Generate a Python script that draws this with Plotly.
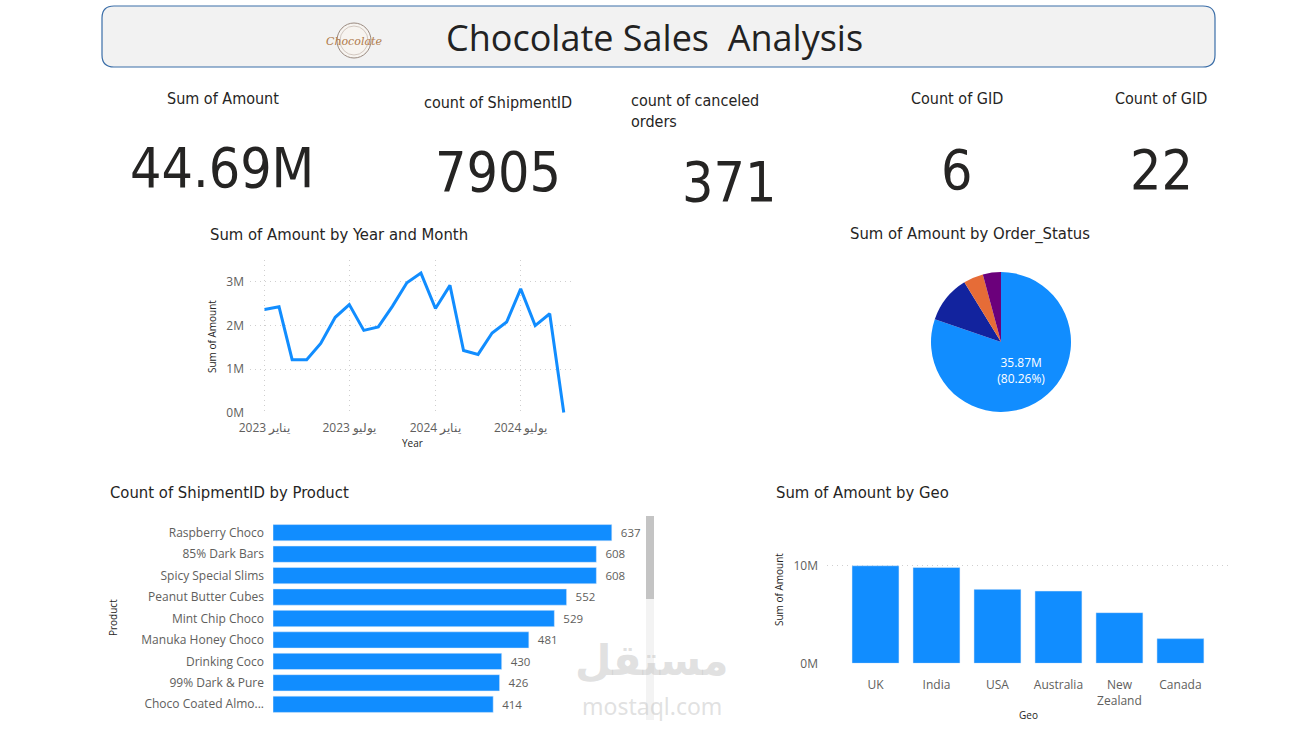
import plotly.graph_objects as go

W, H = 1305, 732

# ---------------- data ----------------
months = ["2023-01-01", "2023-02-01", "2023-03-01", "2023-04-01", "2023-05-01", "2023-06-01",
          "2023-07-01", "2023-08-01", "2023-09-01", "2023-10-01", "2023-11-01", "2023-12-01",
          "2024-01-01", "2024-02-01", "2024-03-01", "2024-04-01", "2024-05-01", "2024-06-01",
          "2024-07-01", "2024-08-01", "2024-09-01", "2024-10-01"]
monthly_amount = [2.37e6, 2.43e6, 1.22e6, 1.22e6, 1.59e6, 2.19e6, 2.48e6, 1.89e6, 1.97e6, 2.44e6,
                  2.98e6, 3.20e6, 2.39e6, 2.92e6, 1.43e6, 1.34e6, 1.83e6, 2.08e6, 2.84e6, 2.00e6,
                  2.27e6, 0.01e6]
month_tick_vals = ["2023-01-01", "2023-07-01", "2024-01-01", "2024-07-01"]
month_tick_text = ["يناير 2023", "يوليو 2023", "يناير 2024", "يوليو 2024"]

status_labels = ["Delivered", "In Transit", "Returned", "Cancelled"]
status_amount = [35.87e6, 4.90e6, 2.05e6, 1.87e6]
status_colors = ["#118DFF", "#12239E", "#E66C37", "#6B007B"]
status_text = ["35.87M<br>(80.26%)", "", "", ""]

products = ["Raspberry Choco", "85% Dark Bars", "Spicy Special Slims", "Peanut Butter Cubes",
            "Mint Chip Choco", "Manuka Honey Choco", "Drinking Coco", "99% Dark & Pure",
            "Choco Coated Almonds"]
product_tick_text = ["Raspberry Choco", "85% Dark Bars", "Spicy Special Slims", "Peanut Butter Cubes",
                     "Mint Chip Choco", "Manuka Honey Choco", "Drinking Coco", "99% Dark & Pure",
                     "Choco Coated Almo..."]
product_counts = [637, 608, 608, 552, 529, 481, 430, 426, 414]

geos = ["UK", "India", "USA", "Australia", "New Zealand", "Canada"]
geo_tick_text = ["UK", "India", "USA", "Australia", "New<br>Zealand", "Canada"]
geo_amount = [10.0e6, 9.83e6, 7.58e6, 7.41e6, 5.19e6, 2.53e6]

kpi_labels = ["Sum of Amount", "count of ShipmentID", "count of canceled<br>orders", "Count of GID", "Count of GID"]
kpi_values = ["44.69M", "7905", "371", "6", "22"]

# ---------------- helpers ----------------
def X(px):
    return px / W

def Y(py):
    return 1 - py / H

DIN = "Noto Sans Condensed, Noto Sans SemiCondensed, DejaVu Sans Condensed, Roboto, sans-serif"
LAB = "DejaVu Sans Condensed, Roboto, sans-serif"
SEG = "Segoe UI, Open Sans, Noto Sans, sans-serif"
TXT = "#252423"
TICK = "#605E5C"
GRID = "#CFCFCF"
BLUE = "#118DFF"
DOT = "1px,4px"

fig = go.Figure()

# line chart
fig.add_trace(go.Scatter(x=months, y=monthly_amount, mode="lines",
                         line=dict(color=BLUE, width=3), xaxis="x", yaxis="y",
                         showlegend=False, hoverinfo="x+y"))

# pie
fig.add_trace(go.Pie(labels=status_labels, values=status_amount, sort=False,
                     direction="clockwise", rotation=0,
                     marker=dict(colors=status_colors, line=dict(color="white", width=0)),
                     text=status_text, textinfo="text", textposition="inside",
                     insidetextfont=dict(color="white", size=12, family=SEG),
                     domain=dict(x=[X(931), X(1071)], y=[Y(412), Y(272)]),
                     showlegend=False))

# product bars
fig.add_trace(go.Bar(x=product_counts, y=products, orientation="h",
                     marker=dict(color=BLUE), width=0.76,
                     text=product_counts, texttemplate="\u00a0\u00a0%{x}", textposition="outside",
                     textfont=dict(size=12, color=TICK, family=SEG), cliponaxis=False,
                     xaxis="x3", yaxis="y3", showlegend=False))

# geo bars
fig.add_trace(go.Bar(x=geos, y=geo_amount, marker=dict(color=BLUE), width=0.77,
                     xaxis="x4", yaxis="y4", showlegend=False))

tickfont = dict(size=12, color=TICK, family=SEG)

fig.update_layout(
    width=W, height=H, autosize=False,
    margin=dict(l=0, r=0, t=0, b=0, autoexpand=False),
    paper_bgcolor="white", plot_bgcolor="rgba(0,0,0,0)",
    xaxis=dict(domain=[X(250), X(575)], type="date",
               range=["2022-12-01", "2024-10-25"],
               tickvals=month_tick_vals, ticktext=month_tick_text,
               showgrid=True, gridcolor=GRID, griddash=DOT, gridwidth=1,
               zeroline=False, showline=False, ticks="", tickfont=tickfont,
               ticklabelstandoff=6, automargin=False, anchor="y"),
    yaxis=dict(domain=[Y(413), Y(260)], range=[0, 3.5e6],
               tickvals=[0, 1e6, 2e6, 3e6], ticktext=["0M", "1M", "2M", "3M"],
               showgrid=True, gridcolor=GRID, griddash=DOT, gridwidth=1,
               zeroline=False, showline=False, ticks="", tickfont=tickfont,
               ticklabelstandoff=5, automargin=False, anchor="x"),
    xaxis3=dict(domain=[X(273), X(640)], range=[0, 690], visible=False,
                automargin=False, anchor="y3"),
    yaxis3=dict(domain=[Y(715), Y(522)], range=[8.5, -0.5], type="category",
                categoryorder="array", categoryarray=products,
                tickvals=products, ticktext=product_tick_text,
                showgrid=False, zeroline=False, showline=False, ticks="",
                tickfont=dict(size=12, color=TICK, family=SEG),
                ticklabelstandoff=8, automargin=False, anchor="x3"),
    xaxis4=dict(domain=[X(827), X(1228)], range=[-0.795, 5.78], type="category",
                categoryorder="array", categoryarray=geos,
                tickvals=geos, ticktext=geo_tick_text,
                showgrid=False, zeroline=False, showline=False, ticks="",
                tickfont=tickfont, ticklabelstandoff=13, automargin=False, anchor="y4"),
    yaxis4=dict(domain=[Y(663.3), Y(556)], range=[0, 11e6],
                tickvals=[0, 1e7], ticktext=["0M", "10M"],
                showgrid=True, gridcolor=GRID, griddash=DOT, gridwidth=1,
                zeroline=False, showline=False, ticks="", tickfont=tickfont,
                ticklabelstandoff=8, automargin=False, anchor="x4"),
)

shapes = []
# title box with rounded corners
x0, x1, y0, y1, r = 102, 1215, 6, 67, 12
pts = (f"M {X(x0+r)},{Y(y0)} L {X(x1-r)},{Y(y0)} Q {X(x1)},{Y(y0)} {X(x1)},{Y(y0+r)} "
       f"L {X(x1)},{Y(y1-r)} Q {X(x1)},{Y(y1)} {X(x1-r)},{Y(y1)} "
       f"L {X(x0+r)},{Y(y1)} Q {X(x0)},{Y(y1)} {X(x0)},{Y(y1-r)} "
       f"L {X(x0)},{Y(y0+r)} Q {X(x0)},{Y(y0)} {X(x0+r)},{Y(y0)} Z")
shapes.append(dict(type="path", xref="paper", yref="paper", path=pts,
                   fillcolor="#F2F2F2", line=dict(color="#3B6EA8", width=1.2), layer="below"))
# logo circle
shapes.append(dict(type="circle", xref="paper", yref="paper",
                   x0=X(337), x1=X(371), y0=Y(58), y1=Y(23),
                   line=dict(color="#9A8A80", width=1), fillcolor="#F7F4F0"))
shapes.append(dict(type="circle", xref="paper", yref="paper",
                   x0=X(340), x1=X(368), y0=Y(55), y1=Y(26),
                   line=dict(color="#C9BDB4", width=0.8), fillcolor="rgba(0,0,0,0)"))
# scrollbar
shapes.append(dict(type="rect", xref="paper", yref="paper", x0=X(646), x1=X(654), y0=Y(720), y1=Y(599),
                   fillcolor="#F3F3F3", line=dict(width=0)))
shapes.append(dict(type="rect", xref="paper", yref="paper", x0=X(646), x1=X(654), y0=Y(599), y1=Y(516),
                   fillcolor="#C4C4C4", line=dict(width=0)))
fig.update_layout(shapes=shapes)

ann = []
def add_text(text, px, py, size, color=TXT, family=DIN, xanchor="center", yanchor="middle", **kw):
    ann.append(dict(text=text, x=X(px), y=Y(py), xref="paper", yref="paper",
                    showarrow=False, xanchor=xanchor, yanchor=yanchor,
                    font=dict(size=size, color=color, family=family), **kw))

# title
add_text("Chocolate Sales  Analysis", 654, 38, 36, color="#222222", family=SEG)
add_text("<i>Chocolate</i>", 354, 41, 11, color="#B07A4A", family="DejaVu Serif, serif")

# KPI cards
kpi_label_pos = [(223, 98, "center"), (498, 102, "center"), (629, 111, "left"), (957, 99, "center"), (1161, 99, "center")]
kpi_value_pos = [(222, 168), (498, 172), (729, 182), (957, 170), (1161, 170)]
for lab, (lx, ly, al), val, (vx, vy) in zip(kpi_labels, kpi_label_pos, kpi_values, kpi_value_pos):
    if al == "left":
        add_text(lab, lx, ly, 16, family=LAB, xanchor="left", align="left")
    else:
        add_text(lab, lx, ly, 16, family=LAB)
    ann.append(dict(text=val, x=X(vx), y=Y(vy), xref="paper", yref="paper", showarrow=False,
                    xanchor="center", yanchor="middle",
                    font=dict(size=55, color=TXT, family=DIN)))

# chart titles
add_text("Sum of Amount by Year and Month", 339, 234, 16.5, family=LAB)
add_text("Sum of Amount by Order_Status", 970, 234, 16.5, family=LAB)
add_text("Count of ShipmentID by Product", 108, 492, 16.5, family=LAB, xanchor="left")
add_text("Sum of Amount by Geo", 774, 492, 16.5, family=LAB, xanchor="left")

# axis titles
add_text("Sum of Amount", 212, 336, 10, family=SEG, textangle=-90)
add_text("Year", 413, 443, 10, family=SEG)
add_text("Product", 113, 618, 10, family=SEG, textangle=-90)
add_text("Sum of Amount", 779, 590, 10, family=SEG, textangle=-90)
add_text("Geo", 1028, 715, 10, family=SEG)

# watermark
add_text("<b>مستقل</b>", 652, 658, 42, color="rgba(195,195,195,0.5)", family="Noto Sans, DejaVu Sans, sans-serif")
add_text("mostaql.com", 652, 706, 23, color="rgba(195,195,195,0.5)", family="Noto Sans, DejaVu Sans, sans-serif")

fig.update_layout(annotations=ann)

fig.write_html("out.html")
